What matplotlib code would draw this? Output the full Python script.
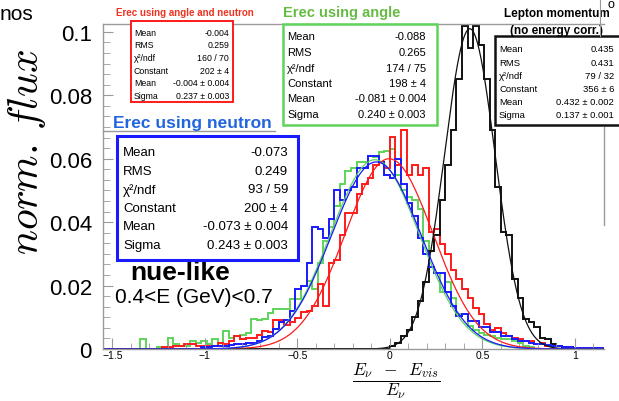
import numpy as np
import matplotlib
matplotlib.use("Agg")
import matplotlib.pyplot as plt
from matplotlib.patches import Rectangle
from matplotlib.lines import Line2D
from matplotlib.ticker import MultipleLocator, AutoMinorLocator, FuncFormatter

plt.rcParams['font.family'] = ['Liberation Sans', 'DejaVu Sans']
plt.rcParams['mathtext.fontset'] = 'cm'

W, H = 619, 402
BIN_W = 0.03

# histogram contents: left edge of first bin, then one value per 0.03 bin
red_start = -1.23
red_vals = [0.0005, 0.0005, 0.0010, 0.0010, 0.0015, 0.0015, 0.0008, 0.0008, 0.0010, 0.0010,
            0.0020, 0.0015, 0.0025, 0.0040, 0.0030, 0.0035, 0.0035, 0.0045, 0.0057, 0.0055,
            0.0090, 0.0090, 0.0075, 0.0085, 0.0097, 0.0117, 0.0120, 0.0135, 0.0205, 0.0136,
            0.027, 0.028, 0.036, 0.043, 0.043, 0.049, 0.052, 0.054, 0.058, 0.059,
            0.057, 0.067, 0.058, 0.069, 0.055, 0.058, 0.055, 0.057, 0.037, 0.038,
            0.033, 0.030, 0.025, 0.022, 0.019, 0.016, 0.013, 0.011, 0.008, 0.006,
            0.0065, 0.005, 0.004, 0.0035, 0.003, 0.0025, 0.0025, 0.0015, 0.002, 0.001,
            0.0012, 0.0008, 0.0005]

green_start = -1.35
green_vals = [0.0030, 0.0, 0.0, 0.0005, 0.0, 0.0035, 0.0015, 0.0010, 0.0010, 0.0025,
              0.0020, 0.0025, 0.0015, 0.0030, 0.0020, 0.0057, 0.0035, 0.0040, 0.0045, 0.0050,
              0.0095, 0.0090, 0.0095, 0.0113, 0.0126, 0.0126, 0.0126, 0.0158, 0.0158, 0.0200,
              0.0215, 0.0190, 0.0270, 0.0340, 0.0385, 0.0450, 0.0520, 0.0560, 0.0570, 0.0590,
              0.0590, 0.0610, 0.0605, 0.0620, 0.0625, 0.0630, 0.0550, 0.0500, 0.0480, 0.0470,
              0.0440, 0.0340, 0.0260, 0.0240, 0.0180, 0.0210, 0.0160, 0.0110, 0.0110, 0.0073,
              0.0060, 0.0050, 0.0045, 0.0040, 0.0035, 0.0030, 0.0030, 0.0025, 0.0020, 0.0010,
              0.0005]

blue_start = -1.02
blue_vals = [0.0005, 0.0005, 0.0008, 0.0010, 0.0010, 0.0012, 0.0015, 0.0015, 0.0020, 0.0020,
             0.0025, 0.0038, 0.0040, 0.0063, 0.0085, 0.0090, 0.0120, 0.0190, 0.0200, 0.0270,
             0.0385, 0.0380, 0.0350, 0.0410, 0.0500, 0.0470, 0.0500, 0.0510, 0.0570, 0.0570,
             0.0610, 0.0610, 0.0590, 0.0550, 0.0540, 0.0600, 0.0520, 0.0460, 0.0420, 0.0350,
             0.0300, 0.0260, 0.0240, 0.0240, 0.0180, 0.0136, 0.0104, 0.0110, 0.0088, 0.0088,
             0.0070, 0.0070, 0.0053, 0.0053, 0.0040, 0.0040, 0.0030, 0.0025, 0.0025, 0.0020,
             0.0015, 0.0015, 0.0012, 0.0010, 0.0008, 0.0006, 0.0005, 0.0004, 0.0003, 0.0003,
             0.0002, 0.0002, 0.0002]

black_start = 0.0
black_vals = [0.001, 0.002, 0.004, 0.006, 0.010, 0.015, 0.021, 0.031, 0.036, 0.047,
              0.058, 0.069, 0.085, 0.102, 0.095, 0.102, 0.096, 0.085, 0.069, 0.051,
              0.037, 0.036, 0.022, 0.016, 0.0095, 0.0085, 0.007, 0.0035, 0.003, 0.0015,
              0.001]

# gaussian fits: peak height, mean, sigma
red_fit = (0.0600, -0.004, 0.237)
green_fit = (0.0597, -0.081, 0.240)
blue_fit = (0.0590, -0.073, 0.243)
black_fit = (0.1010, 0.432, 0.137)

# stats boxes
red_stats = [("Mean", "-0.004"), ("RMS", "0.259"), ("\u03c7\u00b2/ndf", "160 / 70"),
             ("Constant", "202 \u00b1 4"), ("Mean", "-0.004 \u00b1 0.004"), ("Sigma", "0.237 \u00b1 0.003")]
green_stats = [("Mean", "-0.088"), ("RMS", "0.265"), ("\u03c7\u00b2/ndf", "174 / 75"),
               ("Constant", "198 \u00b1 4"), ("Mean", "-0.081 \u00b1 0.004"), ("Sigma", "0.240 \u00b1 0.003")]
blue_stats = [("Mean", "-0.073"), ("RMS", "0.249"), ("\u03c7\u00b2/ndf", "93 / 59"),
              ("Constant", "200 \u00b1 4"), ("Mean", "-0.073 \u00b1 0.004"), ("Sigma", "0.243 \u00b1 0.003")]
black_stats = [("Mean", "0.435"), ("RMS", "0.431"), ("\u03c7\u00b2/ndf", "79 / 32"),
               ("Constant", "356 \u00b1 6"), ("Mean", "0.432 \u00b1 0.002"), ("Sigma", "0.137 \u00b1 0.001")]

RED = '#ff1a1a'
GREEN = '#5fd35a'
BLUE = '#1a1aff'
BLACK = '#111111'
GRAY = '#9a9a9a'

XMIN, XMAX = -1.55, 1.157
YMAX = 0.1025


def fx(px):
    return px / W


def fy(py):
    return 1 - py / H


fig = plt.figure(figsize=(W / 100, H / 100), dpi=100)
ax = fig.add_axes([fx(103), fy(350), fx(604) - fx(103), fy(25) - fy(350)])

xs = np.linspace(XMIN, XMAX, 800)


def draw_series(start, vals, fit, color):
    edges = start + BIN_W * np.arange(len(vals) + 1)
    edges = np.concatenate([[XMIN - 0.1], edges, [XMAX + 0.1]])
    ax.stairs([0] + vals + [0], edges, baseline=None, color=color, lw=1.4)
    a, m, s = fit
    ax.plot(xs, a * np.exp(-(xs - m) ** 2 / (2 * s ** 2)), color=color, lw=0.9)


draw_series(green_start, green_vals, green_fit, GREEN)
draw_series(red_start, red_vals, red_fit, RED)
draw_series(black_start, black_vals, black_fit, BLACK)
draw_series(blue_start, blue_vals, blue_fit, BLUE)

ax.set_xlim(XMIN, XMAX)
ax.set_ylim(0, YMAX)
for s in ax.spines.values():
    s.set_color(GRAY)
    s.set_linewidth(1.0)
ax.spines['right'].set_bounds(0.039, 0.070)
ax.xaxis.set_major_locator(MultipleLocator(0.5))
ax.xaxis.set_minor_locator(MultipleLocator(0.1))
ax.yaxis.set_major_locator(MultipleLocator(0.02))
ax.yaxis.set_minor_locator(AutoMinorLocator(6))
ax.xaxis.set_major_formatter(FuncFormatter(lambda v, p: f"{v:g}".replace("-", "\u2212")))
ax.yaxis.set_major_formatter(FuncFormatter(lambda v, p: f"{v:g}"))
ax.tick_params(axis='both', which='both', direction='in', color=GRAY, top=False, right=False)
ax.tick_params(axis='x', which='major', length=8, labelsize=7.5, pad=1)
ax.tick_params(axis='x', which='minor', length=4)
ax.tick_params(axis='y', which='major', length=7, labelsize=16, pad=8)
ax.tick_params(axis='y', which='minor', length=5)


def stats_box(box, stats, row0, step, lx, rx, fs, color, lw):
    x0, y0, x1, y1 = box
    fig.add_artist(Rectangle((fx(x0), fy(y1)), fx(x1) - fx(x0), fy(y0) - fy(y1),
                             transform=fig.transFigure, facecolor='white',
                             edgecolor=color, lw=lw, zorder=5))
    for i, (k, v) in enumerate(stats):
        y = fy(row0 + i * step)
        fig.text(fx(lx), y, k, fontsize=fs, ha='left', va='center', zorder=6)
        fig.text(fx(rx), y, v, fontsize=fs, ha='right', va='center', zorder=6)


stats_box((131, 22, 233, 103), red_stats, 33, 12.7, 134, 229, 6.3, RED, 1.4)
stats_box((283, 25, 437, 126), green_stats, 37.5, 15.5, 287, 426, 8.0, GREEN, 1.8)
stats_box((117, 137, 298, 261), blue_stats, 153, 18.6, 123, 288, 9.5, BLUE, 2.2)
stats_box((495, 37, 640, 126), black_stats, 50, 13.2, 499, 614, 6.8, BLACK, 1.8)

fig.text(fx(185), fy(13), "Erec using angle and neutron", fontsize=7, fontweight='bold',
         color='#ee3322', ha='center', va='center')
fig.text(fx(283), fy(13), "Erec using angle", fontsize=10.5, fontweight='bold',
         color='#66bb44', ha='left', va='center')
fig.text(fx(113), fy(124), "Erec using neutron", fontsize=12.5, fontweight='bold',
         color='#2266dd', ha='left', va='center', zorder=6)
fig.text(fx(557), fy(14), "Lepton momentum", fontsize=8.5, fontweight='bold',
         ha='center', va='center', zorder=6)
fig.text(fx(557), fy(31), "(no energy corr.)", fontsize=8.5, fontweight='bold',
         ha='center', va='center', zorder=6)

fig.text(fx(130), fy(273), "nue-like", fontsize=19, fontweight='bold', ha='left', va='center')
fig.text(fx(115), fy(298), "0.4<E (GeV)<0.7", fontsize=15, ha='left', va='center')

# leftovers from the slide
fig.add_artist(Line2D([fx(103), fx(275)], [fy(131.5), fy(131.5)], color=GRAY, lw=1.0, zorder=4))
fig.add_artist(Line2D([fx(600), fx(600)], [fy(0), fy(37)], color=GRAY, lw=0.8, zorder=7))
fig.text(0, fy(15), "nos", fontsize=15, ha='left', va='center')
fig.text(fx(608), fy(5), "o", fontsize=9, ha='left', va='center')

fig.text(fx(27), fy(152), r'$norm.\,flux$', fontsize=30, rotation=90, ha='center', va='center')
fig.text(fx(396), fy(381), r'$\dfrac{E_\nu \;\;-\;\; E_{vis}}{E_\nu}$', fontsize=12.5,
         ha='center', va='center')

fig.savefig("out.png", dpi=100)
